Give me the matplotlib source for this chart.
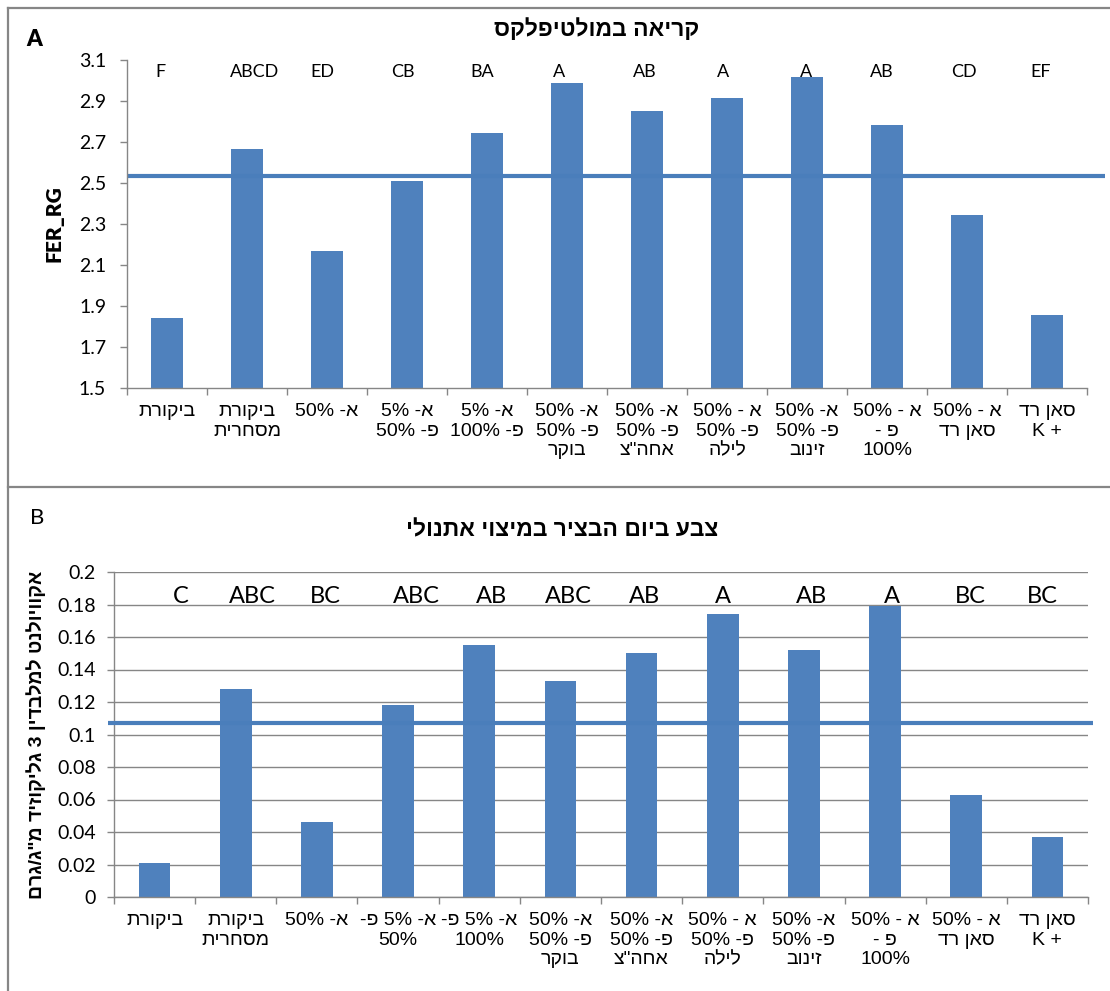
import re

import matplotlib
matplotlib.use('Agg')
import matplotlib.pyplot as plt
import numpy as np
from matplotlib.lines import Line2D

# --- data -------------------------------------------------------------
categories_a = [
    'ביקורת',
    'ביקורת\nמסחרית',
    'א- 50%',
    'א- 5%\nפ- 50%',
    'א- 5%\nפ- 100%',
    'א- 50%\nפ- 50%\nבוקר',
    'א- 50%\nפ- 50%\nאחה"צ',
    'א - 50%\nפ- 50%\nלילה',
    'א- 50%\nפ- 50%\nזינוב',
    'א - 50%\nפ -\n100%',
    'א - 50%\nסאן רד',
    'סאן רד\n+ K',
]
fer_rg = [1.84, 2.665, 2.168, 2.51, 2.744, 2.988, 2.85, 2.915, 3.017, 2.783, 2.342, 1.856]
letters_a = ['F', 'ABCD', 'ED', 'CB', 'BA', 'A', 'AB', 'A', 'A', 'AB', 'CD', 'EF']
mean_a = 2.535

categories_b = [
    'ביקורת',
    'ביקורת\nמסחרית',
    'א- 50%',
    'א- 5% פ-\n50%',
    'א- 5% פ-\n100%',
    'א- 50%\nפ- 50%\nבוקר',
    'א- 50%\nפ- 50%\nאחה"צ',
    'א - 50%\nפ- 50%\nלילה',
    'א- 50%\nפ- 50%\nזינוב',
    'א - 50%\nפ -\n100%',
    'א - 50%\nסאן רד',
    'סאן רד\n+ K',
]
color_mg = [0.021, 0.128, 0.046, 0.118, 0.155, 0.133, 0.150, 0.174, 0.152, 0.179, 0.063, 0.037]
letters_b = ['C', 'ABC', 'BC', 'ABC', 'AB', 'ABC', 'AB', 'A', 'AB', 'A', 'BC', 'BC']
mean_b = 0.107

# small horizontal nudges of the letter groups (category units)
nudge_a = [-0.08, 0.09, -0.06, -0.05, -0.06, -0.1, -0.03, -0.05, -0.01, -0.06, -0.04, -0.08]
nudge_b = [0.32, 0.2, 0.11, 0.22, 0.15, 0.1, 0.04, 0.0, 0.09, 0.09, 0.05, -0.06]

BAR = '#4F81BD'
LINE = '#4A7EBB'
AXIS = '#868686'
HEB = ['Liberation Sans', 'DejaVu Sans']
LAT = ['Lato', 'DejaVu Sans']


def visual(text):
    """Reorder right-to-left text for left-to-right drawing."""
    lines = []
    for line in text.split('\n'):
        rev = line[::-1]
        rev = re.sub(r'[0-9A-Za-z%.]+', lambda m: m.group(0)[::-1], rev)
        lines.append(rev)
    return '\n'.join(lines)


W, H = 1110, 991
fig = plt.figure(figsize=(W / 100, H / 100), dpi=100)


def px_box(left, top, right, bottom):
    return [left / W, 1 - bottom / H, (right - left) / W, (bottom - top) / H]


def fig_line(x0, y0, x1, y1):
    fig.add_artist(Line2D([x0 / W, x1 / W], [1 - y0 / H, 1 - y1 / H],
                          transform=fig.transFigure, color=AXIS, lw=1.6))


# panel frames
fig_line(8, 8, W, 8)
fig_line(8, 8, 8, H)
fig_line(8, 487, W, 487)


def style_axes(ax, labels, ypad):
    x = np.arange(len(labels))
    for s in ['top', 'right']:
        ax.spines[s].set_visible(False)
    for s in ['left', 'bottom']:
        ax.spines[s].set_color(AXIS)
        ax.spines[s].set_linewidth(1.0)
    ax.set_xlim(-0.5, len(labels) - 0.5)
    ax.set_xticks(x)
    ax.set_xticklabels([visual(t) for t in labels], family=HEB, fontsize=14,
                       linespacing=1.2)
    ax.set_xticks(np.arange(len(labels) + 1) - 0.5, minor=True)
    ax.tick_params(axis='x', which='major', length=0, pad=11)
    ax.tick_params(axis='x', which='minor', length=5, color=AXIS, width=1.0)
    ax.tick_params(axis='y', length=5, color=AXIS, width=1.0, pad=ypad,
                   labelsize=14)
    for t in ax.get_yticklabels():
        t.set_family(LAT)


# --- panel A ---------------------------------------------------------
ax1 = fig.add_axes(px_box(127, 60, 1087, 388))
x = np.arange(len(fer_rg))
ax1.bar(x, np.array(fer_rg) - 1.5, bottom=1.5, width=0.41, color=BAR)
ax1.set_ylim(1.5, 3.1)
ax1.set_yticks(np.arange(1.5, 3.11, 0.2))
ax1.yaxis.set_major_formatter(matplotlib.ticker.FormatStrFormatter('%g'))
style_axes(ax1, categories_a, 10)
ax1.plot([-0.5, 11.72], [mean_a, mean_a], color=LINE, lw=3, clip_on=False,
         solid_capstyle='butt')
for i, s in enumerate(letters_a):
    ax1.text(i + nudge_a[i], 0.963, s, transform=ax1.get_xaxis_transform(),
             ha='center', va='center', fontsize=13, family=LAT)
ax1.set_ylabel('FER_RG', fontsize=15, fontweight='heavy', family=LAT, labelpad=11)
fig.text(597 / W, 1 - 30 / H, visual('קריאה במולטיפלקס'), ha='center',
         va='center', fontsize=16.5, fontweight='bold', family=HEB)
fig.text(34 / W, 1 - 39 / H, 'A', ha='center', va='center', fontsize=16,
         fontweight='heavy', family=LAT)

# --- panel B ---------------------------------------------------------
ax2 = fig.add_axes(px_box(114, 572, 1088, 897))
ax2.bar(x, color_mg, width=0.39, color=BAR, zorder=2)
ax2.set_ylim(0, 0.2)
ax2.set_yticks(np.arange(0, 0.201, 0.02))
ax2.yaxis.set_major_formatter(matplotlib.ticker.FormatStrFormatter('%g'))
ax2.grid(axis='y', color=AXIS, lw=1.0, zorder=0)
ax2.set_axisbelow(True)
style_axes(ax2, categories_b, 8)
ax2.plot([-0.575, 11.56], [mean_b, mean_b], color=LINE, lw=3, clip_on=False,
         solid_capstyle='butt', zorder=3)
for i, s in enumerate(letters_b):
    ax2.text(i + nudge_b[i], 0.925, s, transform=ax2.get_xaxis_transform(),
             ha='center', va='center', fontsize=17, family=LAT)
ax2.set_ylabel(visual('אקוויולנט למלבדין 3 גליקוזיד מ"ג/גרם'), fontsize=14,
               fontweight='bold', family=HEB, labelpad=8)
fig.text(562 / W, 1 - 530 / H, visual('צבע ביום הבציר במיצוי אתנולי'),
         ha='center', va='center', fontsize=16.5, fontweight='bold', family=HEB)
fig.text(37 / W, 1 - 518 / H, 'B', ha='center', va='center', fontsize=16,
         family=LAT)

fig.savefig('out.png', dpi=100, facecolor='white')
